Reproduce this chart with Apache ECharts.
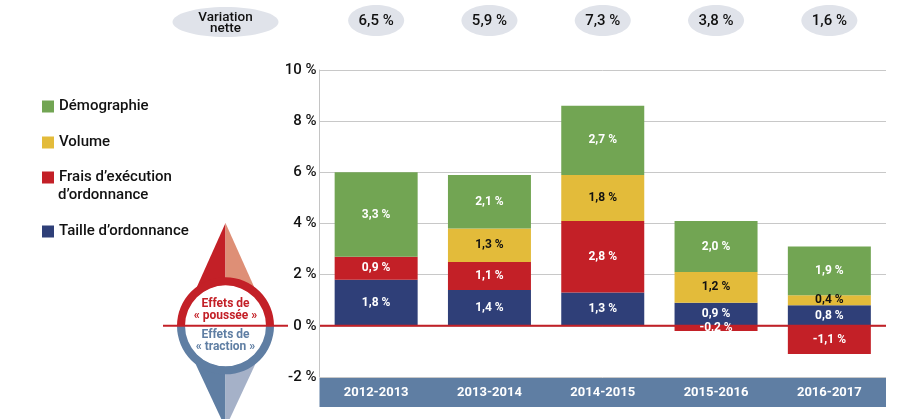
<!DOCTYPE html>
<html><head><meta charset="utf-8">
<style>html,body{margin:0;padding:0;background:#fff}#c{width:903px;height:419px}</style>
<script src="https://cdn.jsdelivr.net/npm/echarts@6/dist/echarts.min.js"></script>
</head><body><div id="c"></div>
<script>
const categories = ['2012-2013','2013-2014','2014-2015','2015-2016','2016-2017'];
const taille = [1.8,1.4,1.3,0.9,0.8];
const frais = [0.9,1.1,2.8,-0.2,-1.1];
const volume = [null,1.3,1.8,1.2,0.4];
const demographie = [3.3,2.1,2.7,2.0,1.9];
const netLabels = ['6,5 %','5,9 %','7,3 %','3,8 %','1,6 %'];
const FONT = 'Roboto';
const RED='#c32027', BLUE='#5f7ea3';
const chart = echarts.init(document.getElementById('c'));
const fmt = p => p.value==null ? '' : p.value.toFixed(1).replace('.',',')+' %';
function bar(name,data,color,labelColor){
  return {name,type:'bar',stack:'t',data,barWidth:83,z:2,
    itemStyle:{color},
    label:{show:true,position:'inside',formatter:fmt,color:labelColor,fontFamily:FONT,fontSize:12,fontWeight:'bold'}};
}
function leg(name,left,top,formatter){
  return {data:[name],left,top,icon:'rect',itemWidth:12,itemHeight:12,itemGap:4,padding:0,selectedMode:false,
    formatter:formatter||'{name}',textStyle:{fontFamily:FONT,fontSize:15,fontWeight:500,color:'#111'}};
}
chart.setOption({
  animation:false,
  grid:{left:319.5,right:17,top:70,bottom:42},
  legend:[
    leg('Démographie',42,99),
    leg('Volume',42,135),
    leg('Frais d’exécution d’ordonnance',42,170,()=>'Frais d’exécution'),
    leg('Taille d’ordonnance',42,224)
  ],
  xAxis:{type:'category',data:categories,offset:15,
    axisLine:{onZero:false,lineStyle:{color:BLUE,width:29,cap:'butt'}},axisTick:{show:false},
    axisLabel:{color:'#fff',fontFamily:FONT,fontWeight:'bold',fontSize:13,margin:-6}},
  yAxis:{type:'value',min:-2,max:10,interval:2,
    axisLine:{show:true,lineStyle:{color:'#c4c4c4',width:1}},axisTick:{show:false},
    splitLine:{lineStyle:{color:'#c8c8c8',width:1}},
    axisLabel:{formatter:'{value} %',color:'#111',fontFamily:FONT,fontWeight:500,fontSize:15,margin:3,padding:[2,0,0,0]}},
  series:[
    bar('Taille d’ordonnance',taille,'#2f3f78','#fff'),
    bar('Frais d’exécution d’ordonnance',frais,RED,'#fff'),
    bar('Volume',volume,'#e3bb3a','#111'),
    bar('Démographie',demographie,'#72a553','#fff')
  ]
});
const y0 = chart.convertToPixel({yAxisIndex:0},0);
const cx=225.5, els=[];
const pill=(x,y,rx,ry)=>({type:'ellipse',shape:{cx:x,cy:y,rx,ry},style:{fill:'#e0e3ea'},z:1});
const txt=(x,y,t,font,fill,z)=>({type:'text',x,y,z:z||10,style:{text:t,font,fill,align:'center',verticalAlign:'middle'}});
els.push(pill(cx,22,53,15));
els.push(txt(cx,18,'Variation','500 13.5px '+FONT,'#111'));
els.push(txt(cx,29,'nette','500 13.5px '+FONT,'#111'));
categories.forEach((c,i)=>{
  const x=chart.convertToPixel({xAxisIndex:0},c);
  els.push(pill(x,20.5,28,15.5));
  els.push(txt(x,21,netLabels[i],'500 15px '+FONT,'#111'));
});
els.push(txt(58,195,'d’ordonnance','500 15px '+FONT,'#111'));
els[els.length-1].style.align='left';
const poly=(pts,fill)=>({type:'polygon',shape:{points:pts},style:{fill},z:3});
els.push(poly([[cx,223],[cx,300],[191,300]],RED));
els.push(poly([[cx,223],[cx,300],[260,300]],'#de8f76'));
els.push(poly([[cx,352],[cx,428],[190,352]],BLUE));
els.push(poly([[cx,352],[cx,428],[261,352]],'#a5b1c8'));
els.push({type:'circle',shape:{cx,cy:y0,r:41},style:{fill:'#fff'},z:4});
els.push({type:'sector',shape:{cx,cy:y0,r:48.5,r0:40.5,startAngle:Math.PI,endAngle:2*Math.PI,clockwise:true},style:{fill:RED},z:5});
els.push({type:'sector',shape:{cx,cy:y0,r:48.5,r0:40.5,startAngle:0,endAngle:Math.PI,clockwise:true},style:{fill:BLUE},z:5});
els.push(txt(cx,304,'Effets de','bold 12px '+FONT,RED));
els.push(txt(cx,316,'« poussée »','bold 12px '+FONT,RED));
els.push(txt(cx,335,'Effets de','bold 12px '+FONT,BLUE));
els.push(txt(cx,347,'« traction »','bold 12px '+FONT,BLUE));
els.push({type:'line',shape:{x1:163,y1:y0,x2:288,y2:y0},style:{stroke:RED,lineWidth:2},z:6});
els.push({type:'line',shape:{x1:320,y1:y0,x2:886,y2:y0},style:{stroke:RED,lineWidth:2},z:2,z2:1});
chart.setOption({graphic:{elements:els}});
</script></body></html>
